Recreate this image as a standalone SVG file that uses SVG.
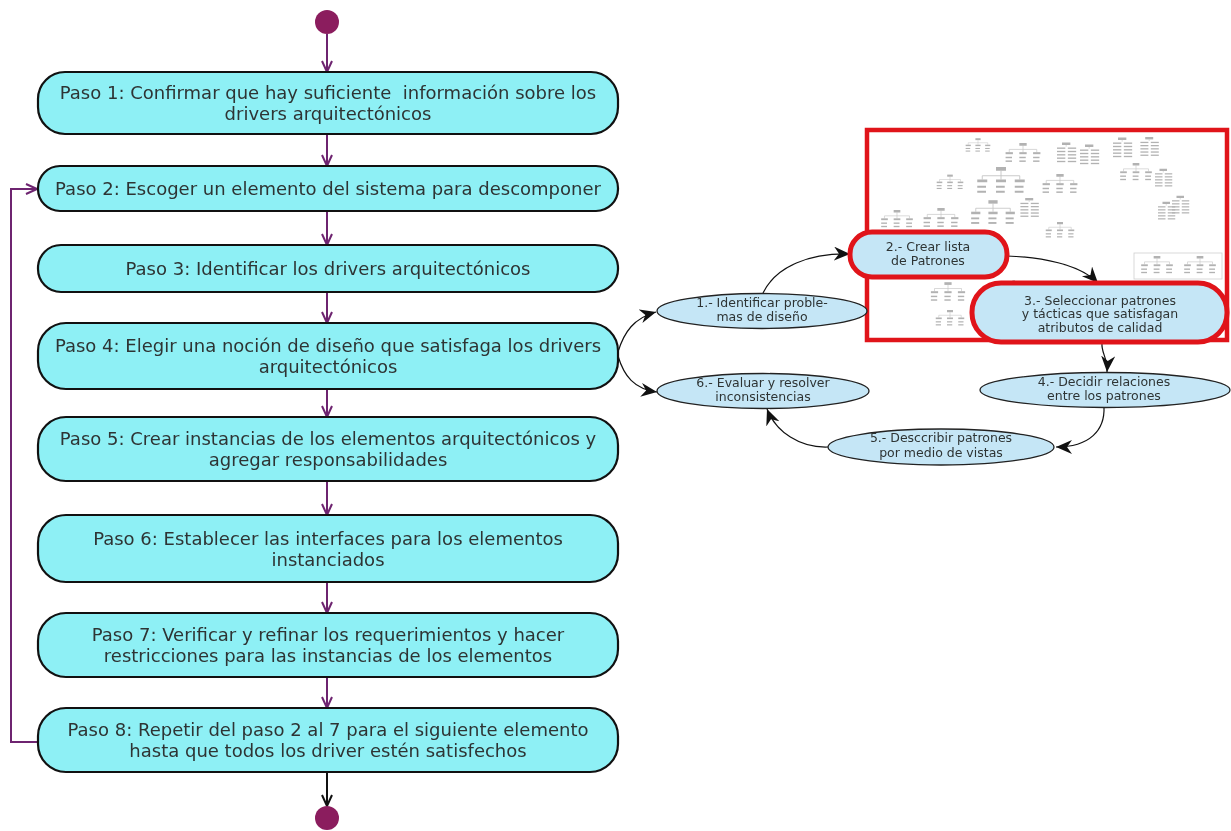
<svg xmlns="http://www.w3.org/2000/svg" width="1231" height="831" viewBox="0 0 1231 831">
  <defs>
    <style>
      .step rect { fill: #8ef0f5; stroke: #111; stroke-width: 2.2; }
      .step text { font-family: "DejaVu Sans", "Liberation Sans", sans-serif; font-size: 18px; fill: #2e3434; text-anchor: middle; }
      .flow { stroke: #6e2470; stroke-width: 2; fill: none; marker-end: url(#open); }
      .flow.last { stroke: #111; marker-end: url(#openBlack); }
      .dot { fill: #8b1d5e; }
      .bubble ellipse, .bubble rect { fill: #c5e6f6; stroke: #222; stroke-width: 1.3; }
      .bubble.hl rect { stroke: #e0141a; stroke-width: 5; }
      .bubble text { font-family: "DejaVu Sans", "Liberation Sans", sans-serif; font-size: 12.5px; fill: #2e3434; text-anchor: middle; }
      .cycle { stroke: #111; stroke-width: 1.2; fill: none; marker-end: url(#barb); }
      .sk rect { fill: #b2b2b2; }
      .sk path { stroke: #c2c2c2; stroke-width: 0.7; fill: none; }
    </style>
    <filter id="soft" x="-5%" y="-5%" width="110%" height="110%">
      <feGaussianBlur stdDeviation="0.45"/>
    </filter>
    <marker id="open" markerUnits="userSpaceOnUse" markerWidth="14" markerHeight="14" refX="12" refY="6" orient="auto">
      <path d="M1 1 L12 6 L1 11" fill="none" stroke="#6e2470" stroke-width="2"/>
    </marker>
    <marker id="openBlack" markerUnits="userSpaceOnUse" markerWidth="14" markerHeight="14" refX="12" refY="6" orient="auto">
      <path d="M1 1 L12 6 L1 11" fill="none" stroke="#111" stroke-width="2"/>
    </marker>
    <marker id="barb" markerUnits="userSpaceOnUse" markerWidth="18" markerHeight="16" refX="16" refY="7" orient="auto">
      <path d="M0 0 L16 7 L0 14 L5 7 Z" fill="#111"/>
    </marker>
    <!-- tiny tree and list glyphs for the pattern catalogue thumbnail -->
    <symbol id="mtree" viewBox="0 0 40 24" overflow="visible">
      <g class="sk">
        <path d="M20 3 V7 M5 7 H35 M5 7 V10 M20 7 V10 M35 7 V10"/>
        <rect x="16" y="0" width="8" height="3"/>
        <rect x="1" y="10" width="8" height="2.2"/>
        <rect x="16" y="10" width="8" height="2.2"/>
        <rect x="31" y="10" width="8" height="2.2"/>
        <rect x="1" y="15" width="7" height="1.6"/>
        <rect x="16" y="15" width="7" height="1.6"/>
        <rect x="31" y="15" width="7" height="1.6"/>
        <rect x="1" y="19" width="7" height="1.6"/>
        <rect x="16" y="19" width="7" height="1.6"/>
        <rect x="31" y="19" width="7" height="1.6"/>
      </g>
    </symbol>
    <symbol id="mlist" viewBox="0 0 24 30" overflow="visible">
      <g class="sk">
        <rect x="6" y="0" width="10" height="3"/>
        <path d="M11 3 V5"/>
        <rect x="0" y="6" width="10" height="1.6"/>
        <rect x="13" y="6" width="10" height="1.6"/>
        <rect x="0" y="10" width="10" height="1.6"/>
        <rect x="13" y="10" width="10" height="1.6"/>
        <rect x="0" y="14" width="10" height="1.6"/>
        <rect x="13" y="14" width="10" height="1.6"/>
        <rect x="0" y="18" width="10" height="1.6"/>
        <rect x="13" y="18" width="10" height="1.6"/>
        <rect x="0" y="22" width="10" height="1.6"/>
        <rect x="13" y="22" width="10" height="1.6"/>
      </g>
    </symbol>
  </defs>

  <rect width="1231" height="831" fill="#fff"/>

  <!-- pattern catalogue thumbnail with red frame -->
  <g id="catalogue">
    <g filter="url(#soft)">
      <use href="#mtree" x="965" y="137" width="26" height="18"/>
      <use href="#mtree" x="1003" y="143" width="40" height="22"/>
      <use href="#mlist" x="1057" y="140" width="20" height="30"/>
      <use href="#mlist" x="1080" y="142" width="20" height="30"/>
      <use href="#mlist" x="1113" y="137" width="20" height="26"/>
      <use href="#mtree" x="1113" y="163" width="46" height="20"/>
      <use href="#mlist" x="1140" y="137" width="20" height="24"/>
      <use href="#mtree" x="936" y="165" width="28" height="36"/>
      <use href="#mtree" x="970" y="167" width="62" height="30"/>
      <use href="#mtree" x="1040" y="174" width="40" height="22"/>
      <use href="#mlist" x="1155" y="165" width="18" height="30"/>
      <use href="#mlist" x="1172" y="185" width="18" height="44"/>
      <use href="#mtree" x="876" y="210" width="42" height="20"/>
      <use href="#mtree" x="922" y="208" width="38" height="22"/>
      <use href="#mtree" x="970" y="198" width="46" height="32"/>
      <use href="#mlist" x="1018" y="198" width="24" height="24"/>
      <use href="#mtree" x="1020" y="222" width="80" height="18"/>
      <use href="#mlist" x="1158" y="200" width="18" height="26"/>
      <rect x="1134" y="253" width="88" height="26" fill="none" stroke="#cfcfcf" stroke-width="0.8"/>
      <use href="#mtree" x="1137" y="256" width="40" height="20"/>
      <use href="#mtree" x="1180" y="256" width="40" height="20"/>
      <use href="#mtree" x="930" y="280" width="36" height="26"/>
      <use href="#mtree" x="935" y="306" width="30" height="26"/>
      <use href="#mlist" x="1007" y="280" width="14" height="8"/>
    </g>
    <rect x="867" y="130" width="360" height="210" fill="none" stroke="#e0141a" stroke-width="4.5"/>
  </g>

  <!-- connectors -->
  <g id="connectors">
    <path class="flow" d="M327 34 V72"/>
    <path class="flow" d="M327 134 V166"/>
    <path class="flow" d="M327 211 V245"/>
    <path class="flow" d="M327 292 V323"/>
    <path class="flow" d="M327 389 V417"/>
    <path class="flow" d="M327 481 V515"/>
    <path class="flow" d="M327 582 V613"/>
    <path class="flow" d="M327 677 V708"/>
    <path class="flow last" d="M327 772 V806"/>
    <path class="flow" d="M38 742 H11 V189 H37"/>

    <path class="cycle" d="M618 352 C624 332 634 318 656 312"/>
    <path class="cycle" d="M618 356 C624 376 634 389 657 392"/>
    <path class="cycle" d="M763 293 C776 266 810 253 850 254"/>
    <path class="cycle" d="M1007 256 C1040 257 1080 264 1098 283"/>
    <path class="cycle" d="M1102 343 C1101 353 1108 358 1107 372"/>
    <path class="cycle" d="M1104 407 C1105 430 1090 447 1056 447"/>
    <path class="cycle" d="M828 447 C800 448 776 432 767 409"/>
  </g>

  <!-- activity flow -->
  <g id="start"><circle class="dot" cx="327" cy="22" r="12"/></g>

  <g id="paso1" class="step">
    <rect x="38" y="72" width="580" height="62" rx="27"/>
    <text x="328" y="99" xml:space="preserve">Paso 1: Confirmar que hay suficiente  información sobre los</text>
    <text x="328" y="120">drivers arquitectónicos</text>
  </g>
  <g id="paso2" class="step">
    <rect x="38" y="166" width="580" height="45" rx="22"/>
    <text x="328" y="195">Paso 2: Escoger un elemento del sistema para descomponer</text>
  </g>
  <g id="paso3" class="step">
    <rect x="38" y="245" width="580" height="47" rx="23"/>
    <text x="328" y="275">Paso 3: Identificar los drivers arquitectónicos</text>
  </g>
  <g id="paso4" class="step">
    <rect x="38" y="323" width="580" height="66" rx="28"/>
    <text x="328" y="352">Paso 4: Elegir una noción de diseño que satisfaga los drivers</text>
    <text x="328" y="373">arquitectónicos</text>
  </g>
  <g id="paso5" class="step">
    <rect x="38" y="417" width="580" height="64" rx="28"/>
    <text x="328" y="445">Paso 5: Crear instancias de los elementos arquitectónicos y</text>
    <text x="328" y="466">agregar responsabilidades</text>
  </g>
  <g id="paso6" class="step">
    <rect x="38" y="515" width="580" height="67" rx="28"/>
    <text x="328" y="544.5">Paso 6: Establecer las interfaces para los elementos</text>
    <text x="328" y="565.5">instanciados</text>
  </g>
  <g id="paso7" class="step">
    <rect x="38" y="613" width="580" height="64" rx="28"/>
    <text x="328" y="641">Paso 7: Verificar y refinar los requerimientos y hacer</text>
    <text x="328" y="662">restricciones para las instancias de los elementos</text>
  </g>
  <g id="paso8" class="step">
    <rect x="38" y="708" width="580" height="64" rx="28"/>
    <text x="328" y="736">Paso 8: Repetir del paso 2 al 7 para el siguiente elemento</text>
    <text x="328" y="757">hasta que todos los driver estén satisfechos</text>
  </g>
  <g id="end"><circle class="dot" cx="327" cy="818" r="12"/></g>

  <!-- design cycle -->
  <g id="c1" class="bubble">
    <ellipse cx="762" cy="311" rx="105" ry="17.5"/>
    <text x="762" y="307">1.- Identificar proble-</text>
    <text x="762" y="321">mas de diseño</text>
  </g>
  <g id="c2" class="bubble hl">
    <rect x="850" y="232" width="157" height="45" rx="22"/>
    <text x="928" y="251">2.- Crear lista</text>
    <text x="928" y="265">de Patrones</text>
  </g>
  <g id="c3" class="bubble hl">
    <rect x="972" y="283" width="255" height="59" rx="29"/>
    <text x="1100" y="304.5">3.- Seleccionar patrones</text>
    <text x="1100" y="318">y tácticas que satisfagan</text>
    <text x="1100" y="331.5">atributos de calidad</text>
  </g>
  <g id="c4" class="bubble">
    <ellipse cx="1105" cy="390" rx="125" ry="17.5"/>
    <text x="1104" y="386">4.- Decidir relaciones</text>
    <text x="1104" y="400">entre los patrones</text>
  </g>
  <g id="c5" class="bubble">
    <ellipse cx="941" cy="447" rx="113" ry="18"/>
    <text x="941" y="442">5.- Desccribir patrones</text>
    <text x="941" y="457">por medio de vistas</text>
  </g>
  <g id="c6" class="bubble">
    <ellipse cx="763" cy="391" rx="106" ry="17.5"/>
    <text x="763" y="387">6.- Evaluar y resolver</text>
    <text x="763" y="401">inconsistencias</text>
  </g>
</svg>
